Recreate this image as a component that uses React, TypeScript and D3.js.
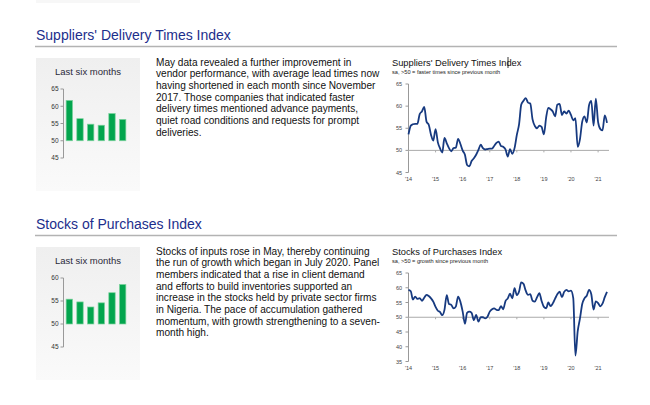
import React from "react";
import * as d3 from "d3";

const FONT = "'Liberation Sans', Arial, Helvetica, sans-serif";

// monthly index values, Jan 2014 - May 2021
const deliveryTimes = [
  53.6, 55.6, 55.9, 56.0, 56.0, 58.2, 58.8, 59.8, 56.5, 55.8, 53.5, 52.2,
  54.8, 51.8, 50.5, 49.5, 52.8, 51.6, 50.5, 49.8, 50.5, 50.6, 52.6, 51.5,
  50.0, 49.0, 46.7, 46.4, 47.6, 48.2, 49.0, 50.1, 51.3, 50.5, 50.2, 50.3,
  50.4, 50.4, 51.0, 51.7, 52.0, 51.0, 50.8, 50.2, 48.6, 50.3, 49.2, 50.5,
  53.5, 56.0, 60.3, 61.2, 61.8, 60.8, 60.6, 57.0, 55.5, 55.0, 55.6, 55.3,
  53.6, 57.5, 59.6, 59.3, 58.8, 57.7, 60.3, 60.5, 58.0, 58.8, 58.3, 59.0,
  58.0, 56.8, 57.3, 50.8, 52.5, 56.5, 57.7, 56.3, 60.2, 61.2, 55.6, 61.7,
  56.4, 54.8, 54.5, 57.9, 56.2,
];

const stocksOfPurchases = [
  59.3, 58.8, 56.0, 57.0, 56.2, 56.5, 55.6, 56.6, 57.6, 57.2, 56.4, 55.3,
  53.5, 52.2, 51.8, 50.7, 52.5, 57.5, 54.5, 54.2, 53.0, 53.6, 57.0, 55.3,
  52.0, 47.8, 51.5, 51.9, 51.5, 49.0, 50.8, 48.5, 50.0, 50.0, 49.6, 50.2,
  51.9, 52.7, 53.0, 52.5, 52.4, 53.8, 52.7, 55.5, 56.4, 58.0, 56.4, 59.9,
  57.5, 58.8, 61.8, 61.3, 59.0, 57.6, 57.8, 55.6, 55.3, 56.8, 58.2, 55.5,
  53.5, 53.0, 55.0, 53.8, 54.7, 56.3, 57.8, 58.7, 56.8, 58.6, 59.3, 58.8,
  59.0, 56.5, 37.0, 45.3, 49.5, 54.5, 56.4, 57.3, 59.3, 57.8, 52.6, 55.4,
  54.8, 53.7, 54.6, 56.8, 58.6,
];

const lastSixLabels = ["Dec", "Jan", "Feb", "Mar", "Apr", "May"];
const deliveryBarTicks = [45, 50, 55, 60, 65];
const stocksBarTicks = [45, 50, 55, 60];
const deliveryLineTicks = [45, 50, 55, 60, 65];
const stocksLineTicks = [35, 40, 45, 50, 55, 60, 65];
const yearLabels = ["'14", "'15", "'16", "'17", "'18", "'19", "'20", "'21"];

const deliveryText = [
  "May data revealed a further improvement in",
  "vendor performance, with average lead times now",
  "having shortened in each month since November",
  "2017. Those companies that indicated faster",
  "delivery times mentioned advance payments,",
  "quiet road conditions and requests for prompt",
  "deliveries.",
];

const stocksText = [
  "Stocks of inputs rose in May, thereby continuing",
  "the run of growth which began in July 2020. Panel",
  "members indicated that a rise in client demand",
  "and efforts to build inventories supported an",
  "increase in the stocks held by private sector firms",
  "in Nigeria. The pace of accumulation gathered",
  "momentum, with growth strengthening to a seven-",
  "month high.",
];

const months = d3.timeMonth.range(new Date(2014, 0, 1), new Date(2021, 5, 1));
const years = d3.timeYear.range(new Date(2014, 0, 1), new Date(2021, 1, 1));

type SectionProps = {
  top: number;
  heading: string;
  text: string[];
  series: number[];
  barTicks: number[];
  lineTicks: number[];
  chartTitle: string;
  chartSub: string;
  cursor?: boolean;
};

const Section = ({ top, heading, text, series, barTicks, lineTicks, chartTitle, chartSub, cursor }: SectionProps) => {
  const lastSix = series.slice(-6);

  // small bar chart
  const by = d3.scaleLinear().domain(d3.extent(barTicks) as [number, number]).range([158, 89]);
  const bx = d3.scaleBand().domain(lastSixLabels).range([64, 128]).paddingInner(0.4).paddingOuter(0.2);

  // line chart
  const x = d3.scaleTime().domain([months[0], months[months.length - 1]]).range([408.5, 607]);
  const y = d3.scaleLinear().domain(d3.extent(lineTicks) as [number, number]).range([172.5, 84]);
  const line = d3
    .line<number>()
    .x((d, i) => x(months[i]))
    .y((d) => y(d))
    .curve(d3.curveMonotoneX);

  return (
    <g transform={`translate(0,${top})`} fontFamily={FONT}>
      <text x={36} y={40} fontSize={14} fill="#1c2e8c">{heading}</text>
      <line x1={35} x2={617} y1={46.5} y2={46.5} stroke="#b3b3b3" strokeWidth={1.5} />

      {/* last six months panel */}
      <rect x={36} y={58} width={104} height={133} fill="url(#panelGrad)" />
      <text x={88} y={75} fontSize={9.5} textAnchor="middle" fill="#2a2a3a">Last six months</text>
      <line x1={63.5} x2={63.5} y1={by(barTicks[barTicks.length - 1])} y2={by(barTicks[0])} stroke="#999" />
      {barTicks.map((t) => (
        <g key={t}>
          <line x1={60.5} x2={63.5} y1={by(t)} y2={by(t)} stroke="#999" />
          <text x={58.5} y={by(t) + 2.3} fontSize={6.5} textAnchor="end" fill="#333">{t}</text>
        </g>
      ))}
      {lastSix.map((v, i) => (
        <rect
          key={i}
          x={bx(lastSixLabels[i])}
          y={by(v)}
          width={bx.bandwidth()}
          height={by(50) - by(v)}
          fill="#03a54e"
          stroke="#7ed39e"
          strokeWidth={0.7}
        />
      ))}

      {/* commentary */}
      <text fontSize={10.1} fill="#111">
        {text.map((l, i) => (
          <tspan key={i} x={156} y={65.5 + i * 11.7}>{l}</tspan>
        ))}
      </text>

      {/* long-run chart */}
      <text x={392} y={65.5} fontSize={9.3} fill="#111">{chartTitle}</text>
      {cursor && <line x1={508} x2={508} y1={57} y2={68} stroke="#000" strokeWidth={0.8} />}
      <text x={392} y={74} fontSize={5.6} fill="#222">{chartSub}</text>

      <line x1={408.5} x2={408.5} y1={y(lineTicks[lineTicks.length - 1])} y2={y(lineTicks[0])} stroke="#999" />
      {lineTicks.map((t) => (
        <g key={t}>
          <line x1={405.5} x2={408.5} y1={y(t)} y2={y(t)} stroke="#999" />
          <text x={402} y={y(t) + 2} fontSize={5.5} textAnchor="end" fill="#444">{t}</text>
        </g>
      ))}
      <line x1={408.5} x2={609} y1={y(50)} y2={y(50)} stroke="#aaa" />
      {years.map((d, i) => (
        <g key={i}>
          <line x1={x(d)} x2={x(d)} y1={y(50)} y2={y(50) + 2} stroke="#aaa" />
          <text x={x(d)} y={181} fontSize={5.5} textAnchor="middle" fill="#444">{yearLabels[i]}</text>
        </g>
      ))}
      <path d={line(series) || ""} fill="none" stroke="#173a80" strokeWidth={1.8} strokeLinejoin="round" />
    </g>
  );
};

export default function App() {
  return (
    <svg width={650} height={405} style={{ position: "absolute", left: 0, top: 0, background: "#fff" }}>
      <defs>
        <linearGradient id="panelGrad" x1="0" y1="0" x2="0" y2="1">
          <stop offset="0%" stopColor="#efefef" />
          <stop offset="100%" stopColor="#fafafa" />
        </linearGradient>
      </defs>
      <rect x={36} y={0} width={104} height={3} fill="#f7f7f7" />
      <Section
        top={0}
        heading="Suppliers' Delivery Times Index"
        text={deliveryText}
        series={deliveryTimes}
        barTicks={deliveryBarTicks}
        lineTicks={deliveryLineTicks}
        chartTitle="Suppliers' Delivery Times Index"
        chartSub="sa, >50 = faster times since previous month"
        cursor
      />
      <Section
        top={189}
        heading="Stocks of Purchases Index"
        text={stocksText}
        series={stocksOfPurchases}
        barTicks={stocksBarTicks}
        lineTicks={stocksLineTicks}
        chartTitle="Stocks of Purchases Index"
        chartSub="sa, >50 = growth since previous month"
      />
    </svg>
  );
}
